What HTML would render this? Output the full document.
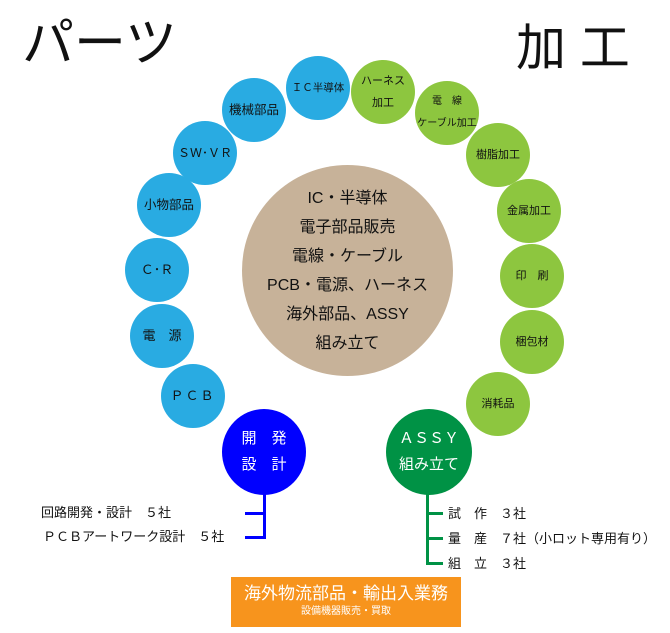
<!DOCTYPE html>
<html><head><meta charset="utf-8"><style>
body{margin:0;width:670px;height:633px;background:#fff;position:relative;overflow:hidden;font-family:"Liberation Sans","Noto Sans CJK JP",sans-serif;}
.c{position:absolute;border-radius:50%;display:flex;align-items:center;justify-content:center;text-align:center;color:#111;font-size:11px;line-height:22px;white-space:nowrap;}
.b{background:#29abe2;width:64px;height:64px;}
.g{background:#8dc63f;width:64px;height:64px;}
.t{position:absolute;white-space:nowrap;color:#111;}
.ln{position:absolute;}
</style></head><body>
<div class="t" style="left:22px;top:14px;font-size:52px;line-height:60px;">パーツ</div>
<div class="t" style="left:516px;top:18px;font-size:50px;line-height:60px;">加 工</div>

<div class="c b" style="left:286px;top:56px;font-size:10.5px;">ＩＣ半導体</div>
<div class="c b" style="left:222px;top:78px;font-size:12.5px;">機械部品</div>
<div class="c b" style="left:173px;top:121px;font-size:12px;">ＳＷ･ＶＲ</div>
<div class="c b" style="left:137px;top:173px;font-size:12.5px;">小物部品</div>
<div class="c b" style="left:125px;top:238px;font-size:13px;">Ｃ･Ｒ</div>
<div class="c b" style="left:130px;top:304px;font-size:13px;">電　源</div>
<div class="c b" style="left:161px;top:364px;font-size:13px;letter-spacing:2px;">ＰＣＢ</div>

<div class="c g" style="left:351px;top:60px;">ハーネス<br>加工</div>
<div class="c g" style="left:415px;top:81px;font-size:10px;">電　線<br>ケーブル加工</div>
<div class="c g" style="left:466px;top:123px;">樹脂加工</div>
<div class="c g" style="left:497px;top:179px;">金属加工</div>
<div class="c g" style="left:500px;top:244px;">印　刷</div>
<div class="c g" style="left:500px;top:310px;">梱包材</div>
<div class="c g" style="left:466px;top:372px;">消耗品</div>

<div class="c" style="left:242px;top:165px;width:211px;height:211px;background:#c7b299;font-size:16px;line-height:29px;">IC・半導体<br>電子部品販売<br>電線・ケーブル<br>PCB・電源、ハーネス<br>海外部品、ASSY<br>組み立て</div>

<div class="c" style="left:222px;top:409px;width:84px;height:86px;background:#0000ff;color:#fff;font-size:15px;line-height:26px;">開　発<br>設　計</div>
<div class="c" style="left:386px;top:409px;width:86px;height:86px;background:#009245;color:#fff;font-size:15px;line-height:26px;">ＡＳＳＹ<br>組み立て</div>

<div class="ln" style="left:263px;top:494px;width:3px;height:45px;background:#0000ff"></div>
<div class="ln" style="left:245px;top:512px;width:21px;height:3px;background:#0000ff"></div>
<div class="ln" style="left:245px;top:536px;width:21px;height:3px;background:#0000ff"></div>
<div class="t" style="left:41px;top:504px;font-size:13px;line-height:18px;">回路開発・設計　５社</div>
<div class="t" style="left:43px;top:528px;font-size:13px;line-height:18px;">ＰＣＢアートワーク設計　５社</div>

<div class="ln" style="left:426px;top:494px;width:3px;height:71px;background:#009245"></div>
<div class="ln" style="left:426px;top:512px;width:17px;height:3px;background:#009245"></div>
<div class="ln" style="left:426px;top:537px;width:17px;height:3px;background:#009245"></div>
<div class="ln" style="left:426px;top:562px;width:17px;height:3px;background:#009245"></div>
<div class="t" style="left:448px;top:505px;font-size:13px;line-height:18px;">試　作　３社</div>
<div class="t" style="left:448px;top:530px;font-size:13px;line-height:18px;">量　産　７社（小ロット専用有り）</div>
<div class="t" style="left:448px;top:555px;font-size:13px;line-height:18px;">組　立　３社</div>

<div style="position:absolute;left:231px;top:577px;width:230px;height:50px;background:#f7941d;color:#fff;text-align:center;">
<div style="font-size:17px;line-height:20px;margin-top:7px;">海外物流部品・輸出入業務</div>
<div style="font-size:10px;line-height:16px;">設備機器販売・買取</div>
</div>
</body></html>
